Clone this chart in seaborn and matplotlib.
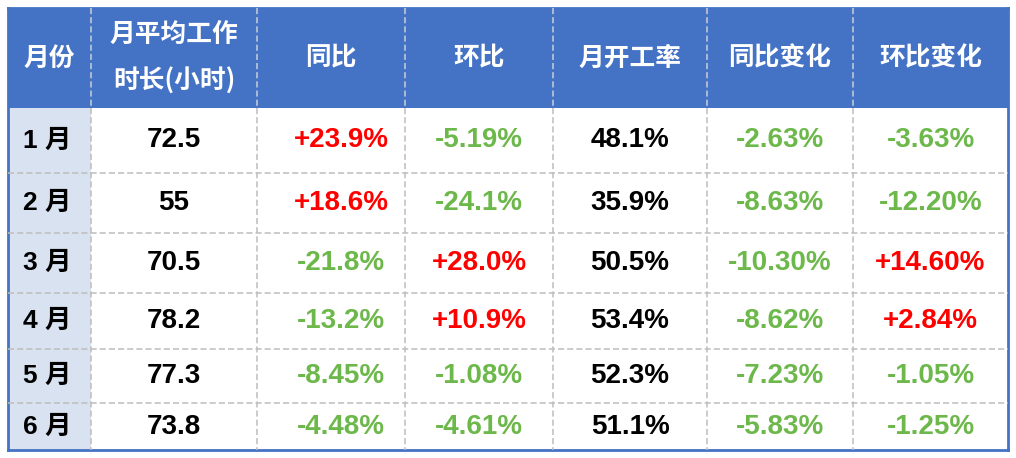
import numpy as np
import pandas as pd
import matplotlib
matplotlib.use("Agg")
import matplotlib.pyplot as plt
from matplotlib.colors import ListedColormap
from matplotlib.transforms import offset_copy
import seaborn as sns

# ---- data ----
headers = ["月份", "月平均工作\n时长(小时)", "同比", "环比", "月开工率", "同比变化", "环比变化"]
months = ["1 月", "2 月", "3 月", "4 月", "5 月", "6 月"]
avg_hours = ["72.5", "55", "70.5", "78.2", "77.3", "73.8"]
yoy = ["+23.9%", "+18.6%", "-21.8%", "-13.2%", "-8.45%", "-4.48%"]
mom = ["-5.19%", "-24.1%", "+28.0%", "+10.9%", "-1.08%", "-4.61%"]
utilization = ["48.1%", "35.9%", "50.5%", "53.4%", "52.3%", "51.1%"]
yoy_change = ["-2.63%", "-8.63%", "-10.30%", "-8.62%", "-7.23%", "-5.83%"]
mom_change = ["-3.63%", "-12.20%", "+14.60%", "+2.84%", "-1.05%", "-1.25%"]

columns = [months, avg_hours, yoy, mom, utilization, yoy_change, mom_change]
colored_cols = {2, 3, 5, 6}

# ---- layout ----
W, H, DPI = 1016, 458, 100
x_edges = [8, 91, 257, 405, 553, 707, 853, 1008]
y_edges = [8, 108, 173, 233, 293, 349, 403, 450]
body_x_shift_px = [-2, 0, 10, 0, 0, 0, 0]

HEADER_BG = "#4472C4"
FIRST_COL_BG = "#D9E2F1"
BODY_BG = "#FFFFFF"
RED = "#FF0000"
GREEN = "#6DB84A"

sns.set_theme(style="white")
plt.rcParams["font.family"] = ["Noto Sans CJK SC", "DejaVu Sans"]

fig = plt.figure(figsize=(W / DPI, H / DPI), dpi=DPI)
ax = fig.add_axes([x_edges[0] / W, 1 - y_edges[-1] / H,
                   (x_edges[-1] - x_edges[0]) / W, (y_edges[-1] - y_edges[0]) / H])

nrows = len(months) + 1
ncols = len(headers)
kind = np.full((nrows, ncols), 2)
kind[0, :] = 0
kind[1:, 0] = 1
df = pd.DataFrame(kind)

sns.heatmap(df, ax=ax, cmap=ListedColormap([HEADER_BG, FIRST_COL_BG, BODY_BG]),
            vmin=-0.5, vmax=2.5, cbar=False, xticklabels=False, yticklabels=False,
            linewidths=0)

# map cell indices to pixel positions (unequal column widths / row heights)
xi = np.arange(ncols + 1, dtype=float)
yi = np.arange(nrows + 1, dtype=float)
xp = np.array(x_edges, dtype=float)
yp = np.array(y_edges, dtype=float)
ax.set_xscale("function", functions=(lambda v: np.interp(v, xi, xp),
                                     lambda p: np.interp(p, xp, xi)))
ax.set_yscale("function", functions=(lambda v: np.interp(v, yi, yp),
                                     lambda p: np.interp(p, yp, yi)))
ax.set_xlim(0, ncols)
ax.set_ylim(nrows, 0)
ax.set_xticks([])
ax.set_yticks([])
ax.set_xlabel("")
ax.set_ylabel("")

# dashed grid
ax.vlines(np.arange(1, ncols), 0, 1, colors="#C9CFDA", linestyles=(0, (4, 2)), lw=1.1, zorder=3)
ax.vlines(np.arange(1, ncols), 1, nrows, colors="#BDBDBD", linestyles=(0, (4, 2)), lw=1.1, zorder=3)
ax.hlines(np.arange(2, nrows), 0, ncols, colors="#BDBDBD", linestyles=(0, (4, 2)), lw=1.1, zorder=3)

for s in ax.spines.values():
    s.set_visible(True)
    s.set_color(HEADER_BG)
    s.set_linewidth(2)

cjk = ["Noto Sans CJK SC", "DejaVu Sans"]
num_family = ["Liberation Sans", "Noto Sans CJK SC", "DejaVu Sans"]

# header text
for j, h in enumerate(headers):
    ax.text(j + 0.5, 0.5, h, ha="center", va="center", color="white",
            fontsize=18.5, fontweight="heavy", linespacing=1.95,
            family=cjk, zorder=4)

# body text
for j, col in enumerate(columns):
    tr = offset_copy(ax.transData, fig=fig, x=body_x_shift_px[j] * 72 / DPI, y=0, units="points")
    for i, val in enumerate(col):
        color = "black"
        if j in colored_cols:
            color = RED if val.startswith("+") else GREEN
        if j == 0:
            ax.text(j + 0.5, i + 1.5, val, ha="center", va="center", color="black",
                    fontsize=19, fontweight="heavy", family=num_family,
                    transform=tr, zorder=4)
        else:
            ax.text(j + 0.5, i + 1.5, val, ha="center", va="center", color=color,
                    fontsize=20, fontweight="bold", family=num_family,
                    transform=tr, zorder=4)

fig.savefig("out.png", dpi=DPI, facecolor="white")
